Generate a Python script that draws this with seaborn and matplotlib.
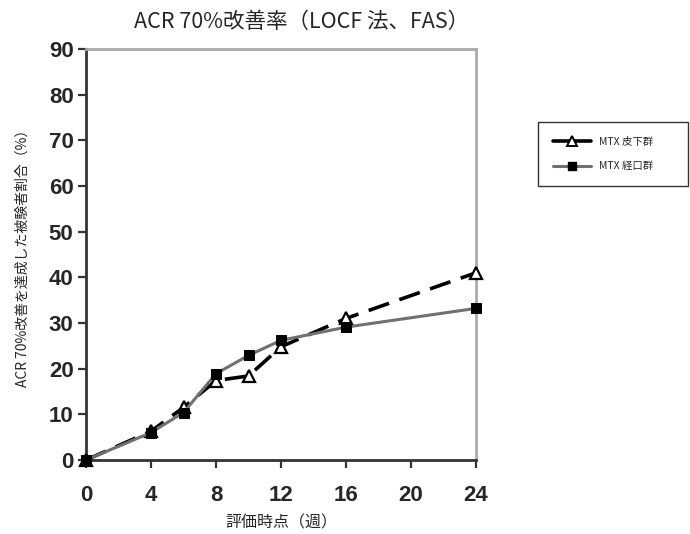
import matplotlib
matplotlib.use("Agg")
import matplotlib.pyplot as plt
import seaborn as sns
import pandas as pd
from matplotlib.lines import Line2D

sns.set_theme(style="white")
plt.rcParams['font.family'] = ['Noto Sans CJK JP', 'DejaVu Sans']

weeks = [0, 4, 6, 8, 10, 12, 16, 24]
subcut = [0, 6.3, 11.5, 17.4, 18.4, 24.8, 31.0, 41.0]
oral = [0, 6.0, 10.4, 18.9, 22.9, 26.2, 29.1, 33.2]
labels = ["MTX 皮下群", "MTX 経口群"]
xticks = [0, 4, 8, 12, 16, 20, 24]
yticks = [0, 10, 20, 30, 40, 50, 60, 70, 80, 90]

df_sc = pd.DataFrame({"week": weeks, "rate": subcut})
df_or = pd.DataFrame({"week": weeks, "rate": oral})

fig = plt.figure(figsize=(6.9, 5.34), dpi=100)
ax = fig.add_axes([86/690, 74/534, 390/690, 411/534])

sns.lineplot(data=df_sc, x="week", y="rate", ax=ax, color="black", lw=2.6,
             linestyle=(0, (6, 3)), marker="^", markersize=8,
             markerfacecolor="white", markeredgecolor="black", markeredgewidth=1.6,
             clip_on=False, zorder=3)
sns.lineplot(data=df_or, x="week", y="rate", ax=ax, color="#707070", lw=2.2,
             marker="s", markersize=7, markerfacecolor="black",
             markeredgecolor="black", clip_on=False, zorder=4)

ax.set_xlim(0, 24)
ax.set_ylim(0, 90)
ax.set_xticks(xticks)
ax.set_yticks(yticks)
for lab in ax.get_xticklabels() + ax.get_yticklabels():
    lab.set_fontfamily(['Liberation Sans', 'DejaVu Sans'])
    lab.set_fontweight('bold')
    lab.set_fontsize(16)
ax.tick_params(axis='both', direction='out', length=6, width=1.6,
               color='#333333', bottom=True, left=True, pad=3)
ax.tick_params(axis='x', pad=12)
for s in ['left', 'bottom']:
    ax.spines[s].set_color('#333333')
    ax.spines[s].set_linewidth(2)
for s in ['top', 'right']:
    ax.spines[s].set_color('#aaaaaa')
    ax.spines[s].set_linewidth(2)

ax.set_xlabel("評価時点（週）", fontsize=11.5, labelpad=6)
ax.set_ylabel("ACR 70%改善を達成した被験者割合（%）", fontsize=10, labelpad=14)
fig.text(0.437, 0.958, "ACR 70%改善率（LOCF 法、FAS）", fontsize=15.5,
         ha='center', va='center')

handles = [
    Line2D([], [], color="black", lw=2.6, marker="^", markersize=7,
           markerfacecolor="white", markeredgecolor="black", markeredgewidth=1.4),
    Line2D([], [], color="#707070", lw=2.2, marker="s", markersize=6,
           markerfacecolor="black", markeredgecolor="black"),
]
leg = fig.legend(handles, labels, loc='upper left', mode='expand',
                 bbox_to_anchor=(538/690, 412/534, 150/690, 0.0),
                 fontsize=7.5, frameon=True, fancybox=False, edgecolor='black',
                 handlelength=3.6, handletextpad=0.8, labelspacing=1.35,
                 borderpad=1.45, borderaxespad=0.0)
leg.get_frame().set_linewidth(1.0)

fig.savefig("out.png", dpi=100)
